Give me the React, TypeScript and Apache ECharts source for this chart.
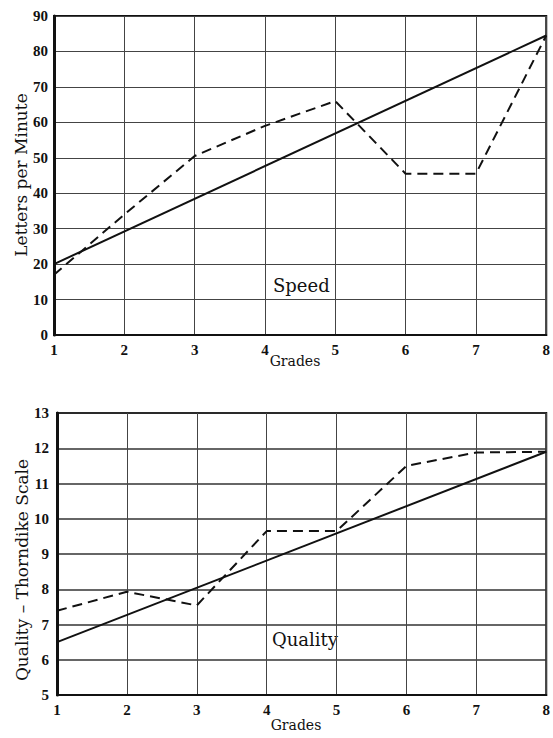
import React, { useEffect, useRef } from "react";
import * as echarts from "echarts";

const grades = [1, 2, 3, 4, 5, 6, 7, 8];
const speedActual = [17, 34, 50.5, 59, 66, 45.5, 45.5, 84.5];
const speedTrendGrades = [1, 8];
const speedTrendValues = [20, 84.5];
const qualityActual = [7.39, 7.93, 7.54, 9.65, 9.65, 11.5, 11.88, 11.9];
const qualityTrendGrades = [1, 8];
const qualityTrendValues = [6.5, 11.9];

const tickFont = { fontFamily: "'Liberation Serif', serif", fontWeight: "bold" as const, fontSize: 15, color: "#111" };
const nameFont = "DejaVu Serif";

export default function App() {
  const ref = useRef<HTMLDivElement>(null);
  useEffect(() => {
    if (!ref.current) return;
    const chart = echarts.init(ref.current, null, { renderer: "svg" });
    const pair = (xs: number[], ys: number[]) => xs.map((x, i) => [x, ys[i]]);
    const xAxisBase = (gridIndex: number) => ({
      type: "value" as const,
      gridIndex,
      min: 1,
      max: 8,
      interval: 1,
      axisLine: { show: true, lineStyle: { color: "#111", width: 2 } },
      axisTick: { show: false },
      axisLabel: { ...tickFont, margin: 7 },
      splitLine: { show: true, lineStyle: { color: "#444", width: 1 } },
    });
    chart.setOption({
      animation: false,
      backgroundColor: "#fff",
      grid: [
        { left: 54, right: 4, top: 16, height: 319, show: true, borderColor: "#111", borderWidth: 2, backgroundColor: "transparent" },
        { left: 57, right: 4, top: 413, height: 282, show: true, borderColor: "#111", borderWidth: 2, backgroundColor: "transparent" },
      ],
      xAxis: [xAxisBase(0), xAxisBase(1)],
      yAxis: [
        {
          type: "value",
          gridIndex: 0,
          min: 0,
          max: 90,
          interval: 10,
          axisLine: { show: true, lineStyle: { color: "#111", width: 3 } },
          axisTick: { show: false },
          axisLabel: { ...tickFont, margin: 6 },
          splitLine: { show: true, lineStyle: { color: "#444", width: 1.2 } },
        },
        {
          type: "value",
          gridIndex: 1,
          min: 5,
          max: 13,
          interval: 1,
          axisLine: { show: true, lineStyle: { color: "#111", width: 3 } },
          axisTick: { show: false },
          axisLabel: { ...tickFont, margin: 8 },
          splitLine: { show: true, lineStyle: { color: "#333", width: 1.5 } },
        },
      ],
      series: [
        {
          type: "line",
          xAxisIndex: 0,
          yAxisIndex: 0,
          data: pair(speedTrendGrades, speedTrendValues),
          symbol: "none",
          lineStyle: { color: "#111", width: 2 },
        },
        {
          type: "line",
          xAxisIndex: 0,
          yAxisIndex: 0,
          data: pair(grades, speedActual),
          symbol: "none",
          lineStyle: { color: "#111", width: 2, type: [10, 6] },
        },
        {
          type: "line",
          xAxisIndex: 1,
          yAxisIndex: 1,
          data: pair(qualityTrendGrades, qualityTrendValues),
          symbol: "none",
          lineStyle: { color: "#111", width: 2 },
        },
        {
          type: "line",
          xAxisIndex: 1,
          yAxisIndex: 1,
          data: pair(grades, qualityActual),
          symbol: "none",
          lineStyle: { color: "#111", width: 2, type: [10, 6] },
        },
      ],
      graphic: [
        {
          type: "text",
          x: 21,
          y: 175,
          rotation: Math.PI / 2,
          style: { text: "Letters per Minute", font: `500 17px '${nameFont}'`, fill: "#111", align: "center", verticalAlign: "middle" },
        },
        {
          type: "text",
          x: 22,
          y: 570,
          rotation: Math.PI / 2,
          style: { text: "Quality – Thorndike Scale", font: `500 17px '${nameFont}'`, fill: "#111", align: "center", verticalAlign: "middle" },
        },
        {
          type: "text",
          x: 295,
          y: 361,
          style: { text: "Grades", font: `14px '${nameFont}'`, fill: "#111", align: "center", verticalAlign: "middle" },
        },
        {
          type: "text",
          x: 296,
          y: 725,
          style: { text: "Grades", font: `14px '${nameFont}'`, fill: "#111", align: "center", verticalAlign: "middle" },
        },
        {
          type: "text",
          x: 273,
          y: 285,
          style: { text: "Speed", font: `18px '${nameFont}'`, fill: "#111", align: "left", verticalAlign: "middle" },
        },
        {
          type: "text",
          x: 272,
          y: 639,
          style: { text: "Quality", font: `18px '${nameFont}'`, fill: "#111", align: "left", verticalAlign: "middle" },
        },
      ],
    });
    return () => chart.dispose();
  }, []);
  return <div ref={ref} style={{ position: "fixed", left: 0, top: 0, width: 553, height: 738 }} />;
}
